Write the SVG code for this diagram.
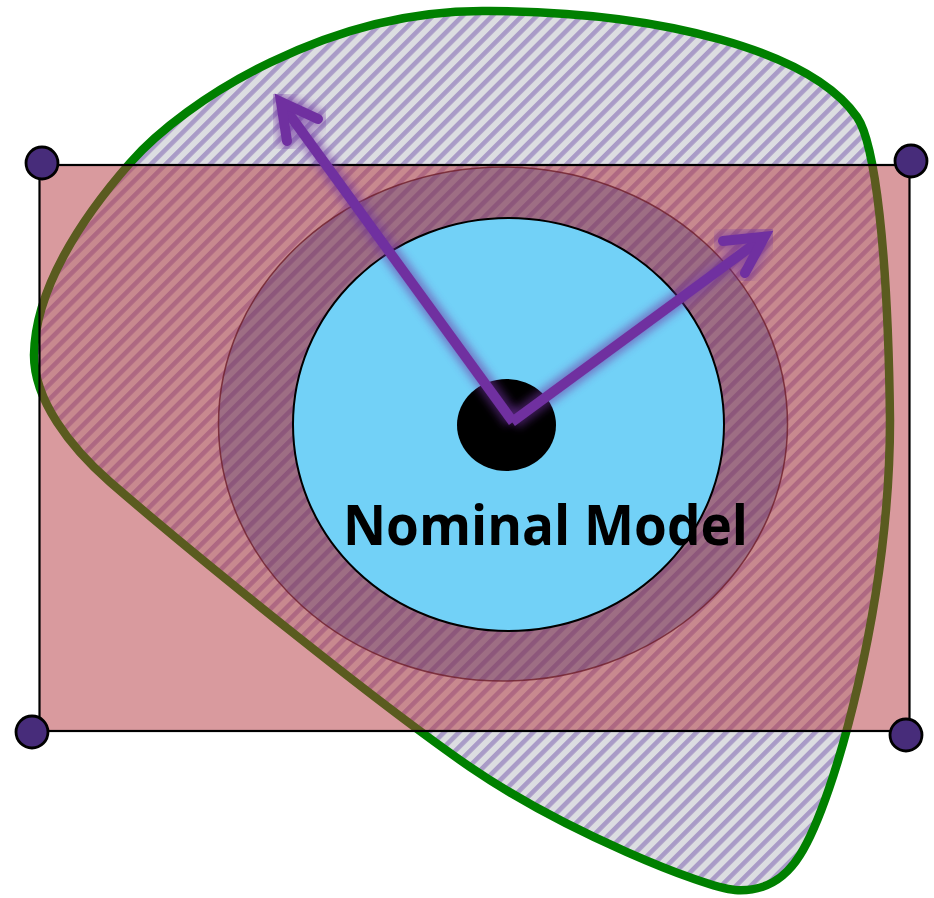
<svg xmlns="http://www.w3.org/2000/svg" width="934" height="898" viewBox="0 0 934 898">
  <defs>
    <pattern id="hatch" patternUnits="userSpaceOnUse" width="10.5" height="20" patternTransform="rotate(45)">
      <rect x="0" y="0" width="10.5" height="20" fill="#dcdde1"/>
      <rect x="0" y="0" width="4.6" height="20" fill="#a99bc7"/>
    </pattern>
    <filter id="glow" x="-20%" y="-20%" width="140%" height="140%">
      <feGaussianBlur stdDeviation="4"/>
    </filter>
    <style>
      .corner { fill: #472c7a; stroke: #000; stroke-width: 2.8; }
      .arrow { fill: none; stroke: #7030a0; stroke-width: 10; }
      .glow { fill: none; stroke: #7030a0; stroke-width: 18; opacity: 0.55; filter: url(#glow); }
      .head { stroke-linejoin: miter; stroke-linecap: round; }
      .label { font-family: "Open Sans", "Noto Sans", "Liberation Sans", sans-serif; font-weight: bold; font-size: 56px; fill: #000; }
    </style>
  </defs>

  <g id="blob">
    <path d="M 490 11 C 660 12 810 50 857 117 C 875 143 888 250 890 420 C 890 600 835 800 800 855 C 785 879 765 892 735 890 C 705 888 565 832 470 767 C 380 705 200 560 110 482 C 70 447 34 400 34 355 C 35 290 80 220 130 163 C 185 100 330 8 490 11 Z" fill="url(#hatch)" stroke="#008000" stroke-width="8.5"/>
  </g>

  <g id="rectangle">
    <rect x="39.5" y="165" width="870" height="566" fill="#b4363e" fill-opacity="0.5" stroke="#000" stroke-width="2.2"/>
  </g>

  <g id="ring">
    <ellipse cx="503" cy="424" rx="284.5" ry="257" fill="#46366c" fill-opacity="0.32" stroke="#6e1e2a" stroke-width="1.5" stroke-opacity="0.8"/>
  </g>

  <g id="nominal-region">
    <ellipse cx="508.5" cy="424.5" rx="215.5" ry="206.5" fill="#72d1f7" stroke="#000" stroke-width="2"/>
  </g>

  <g id="nominal-point">
    <ellipse cx="506.5" cy="425" rx="49.5" ry="46" fill="#000"/>
  </g>

  <g id="nominal-label">
    <text class="label" x="343" y="545" textLength="405" lengthAdjust="spacingAndGlyphs">Nominal Model</text>
  </g>

  <g id="corner-tl"><circle class="corner" cx="42" cy="163" r="16"/></g>
  <g id="corner-tr"><circle class="corner" cx="911" cy="161" r="16"/></g>
  <g id="corner-bl"><circle class="corner" cx="32" cy="732" r="16"/></g>
  <g id="corner-br"><circle class="corner" cx="906" cy="735" r="16"/></g>

  <g id="connectors">
    <g id="glows">
      <line class="glow" x1="513" y1="421" x2="284" y2="107"/>
      <polyline class="glow head" points="287,141 281,102 318,119"/>
      <line class="glow" x1="513" y1="421" x2="760" y2="240"/>
      <polyline class="glow head" points="723,241 764.5,236.7 745,273"/>
    </g>
    <line class="arrow" x1="513" y1="422" x2="284" y2="107"/>
    <polyline class="arrow head" points="287,141 281,102 318,119"/>
    <line class="arrow" x1="512" y1="422" x2="760" y2="240"/>
    <polyline class="arrow head" points="723,241 764.5,236.7 745,273"/>
  </g>
</svg>
